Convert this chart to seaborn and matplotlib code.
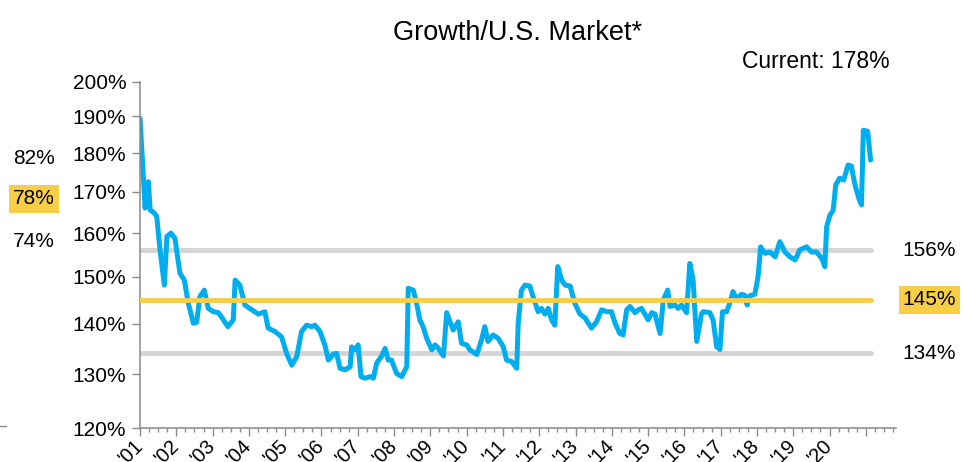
import pandas as pd
import matplotlib.pyplot as plt
import matplotlib.ticker as mticker
from matplotlib.lines import Line2D
import seaborn as sns

# Growth / U.S. market ratio (decimal year, %)
years = [
    2001.00, 2001.14, 2001.23, 2001.28, 2001.37, 2001.46, 2001.55, 2001.67, 2001.74, 2001.85,
    2001.96, 2002.10, 2002.22, 2002.33, 2002.47, 2002.56, 2002.65, 2002.77, 2002.88, 2003.02,
    2003.16, 2003.27, 2003.42, 2003.57, 2003.62, 2003.75, 2003.89, 2004.08, 2004.26, 2004.44,
    2004.53, 2004.72, 2004.90, 2005.04, 2005.18, 2005.32, 2005.45, 2005.59, 2005.73, 2005.82,
    2005.96, 2006.10, 2006.19, 2006.33, 2006.42, 2006.51, 2006.65, 2006.79, 2006.83, 2006.92,
    2007.01, 2007.09, 2007.20, 2007.34, 2007.43, 2007.52, 2007.66, 2007.75, 2007.84, 2007.93,
    2008.07, 2008.21, 2008.35, 2008.39, 2008.53, 2008.62, 2008.71, 2008.80, 2008.90, 2009.04,
    2009.13, 2009.22, 2009.36, 2009.45, 2009.54, 2009.63, 2009.77, 2009.86, 2010.00, 2010.09,
    2010.28, 2010.41, 2010.50, 2010.59, 2010.73, 2010.87, 2011.01, 2011.10, 2011.24, 2011.38,
    2011.42, 2011.51, 2011.61, 2011.74, 2011.83, 2011.97, 2012.06, 2012.16, 2012.25, 2012.34,
    2012.43, 2012.51, 2012.62, 2012.71, 2012.85, 2012.98, 2013.12, 2013.26, 2013.44, 2013.58,
    2013.72, 2013.86, 2013.99, 2014.09, 2014.22, 2014.31, 2014.41, 2014.50, 2014.64, 2014.73,
    2014.82, 2014.91, 2015.00, 2015.10, 2015.19, 2015.33, 2015.42, 2015.54, 2015.60, 2015.74,
    2015.83, 2015.92, 2016.06, 2016.15, 2016.24, 2016.34, 2016.47, 2016.52, 2016.70, 2016.79,
    2016.89, 2016.98, 2017.05, 2017.16, 2017.25, 2017.34, 2017.44, 2017.57, 2017.66, 2017.73,
    2017.80, 2017.94, 2018.03, 2018.10, 2018.22, 2018.36, 2018.50, 2018.63, 2018.77, 2018.91,
    2019.05, 2019.18, 2019.37, 2019.50, 2019.64, 2019.78, 2019.87, 2019.92, 2020.01, 2020.10,
    2020.17, 2020.28, 2020.39, 2020.51, 2020.60, 2020.69, 2020.82, 2020.88, 2020.93, 2021.05,
    2021.13,
]
ratio = [
    189.5, 166.0, 172.6, 165.5, 165.0, 164.0, 156.2, 148.2, 159.2, 160.0,
    158.8, 150.8, 149.3, 144.3, 140.1, 140.3, 145.7, 147.1, 143.2, 142.5,
    142.3, 141.1, 139.4, 140.8, 149.3, 148.2, 143.9, 142.9, 142.0, 142.5,
    139.1, 138.4, 137.3, 134.0, 131.7, 133.4, 138.4, 139.7, 139.4, 139.7,
    138.4, 135.5, 132.7, 133.9, 134.0, 131.1, 130.8, 131.4, 135.3, 134.7,
    135.7, 129.5, 129.2, 129.5, 129.2, 132.1, 133.5, 135.0, 132.7, 132.7,
    130.1, 129.5, 131.4, 147.5, 147.1, 144.3, 140.8, 139.4, 137.0, 134.7,
    135.7, 135.0, 133.5, 142.3, 140.4, 138.7, 140.4, 136.0, 135.7, 134.7,
    133.8, 136.7, 139.4, 136.4, 137.7, 137.0, 135.3, 132.7, 132.4, 131.1,
    140.1, 147.1, 148.2, 148.0, 145.7, 142.5, 143.2, 142.0, 143.2, 140.8,
    139.7, 152.3, 149.3, 148.2, 148.0, 144.3, 142.0, 141.2, 139.1, 140.4,
    142.9, 142.5, 142.5, 140.1, 138.0, 137.7, 142.9, 143.6, 142.3, 142.9,
    143.2, 142.0, 140.8, 142.3, 142.0, 138.0, 145.0, 147.1, 143.6, 143.9,
    143.2, 143.9, 142.3, 153.0, 149.3, 136.4, 142.0, 142.5, 142.3, 140.8,
    135.3, 134.8, 142.5, 142.5, 144.3, 146.8, 145.1, 146.2, 146.0, 143.9,
    145.9, 146.2, 150.0, 156.8, 155.3, 155.6, 154.5, 158.0, 155.6, 154.5,
    153.8, 156.1, 156.8, 155.6, 155.6, 154.2, 152.3, 161.5, 164.3, 165.5,
    171.8, 173.5, 173.0, 176.9, 176.6, 172.2, 168.0, 166.8, 186.2, 185.9,
    178.2,
]

band_values = [156, 145, 134]
band_labels = ['156%', '145%', '134%']
y_ticks = [120, 130, 140, 150, 160, 170, 180, 190, 200]
year_ticks = list(range(2001, 2022))
year_labels = ["'%02d" % (y % 100) for y in range(2001, 2021)] + ['']
side_labels = ['82%', '78%', '74%']  # edge of the neighbouring panel

blue = '#00aeef'
gold = '#f7ce46'
grey = '#d5d5d5'
axis_grey = '#8a8a8a'

sns.set_theme(style='ticks')
plt.rcParams['font.family'] = ['Liberation Sans', 'DejaVu Sans']
plt.rcParams['text.color'] = 'black'
plt.rcParams['xtick.labelcolor'] = 'black'
plt.rcParams['ytick.labelcolor'] = 'black'

fig = plt.figure(figsize=(9.63, 4.62), dpi=100)
ax = fig.add_axes([0.1454, 0.0729, 0.785, 0.7503])

df = pd.DataFrame({'year': years, 'ratio': ratio})

# average and +/- 1 std bands
for v in band_values:
    color = gold if v == 145 else grey
    z = 3 if v == 145 else 1
    ax.hlines(v, years[0], years[-1], colors=color, linewidth=3.5, zorder=z, capstyle='round')

sns.lineplot(data=df, x='year', y='ratio', color=blue, linewidth=3.6, ax=ax, zorder=2)

ax.set_yscale('log')
ax.set_ylim(120, 200)
ax.set_xlim(2001, 2021.83)
ax.yaxis.set_major_locator(mticker.FixedLocator(y_ticks))
ax.yaxis.set_minor_locator(mticker.NullLocator())
ax.yaxis.set_major_formatter(mticker.FuncFormatter(lambda v, _: f'{v:.0f}%'))
ax.set_xticks(year_ticks)
ax.set_xticklabels(year_labels, rotation=45, ha='right', va='center', rotation_mode='anchor')
ax.xaxis.set_minor_locator(mticker.MultipleLocator(0.25))
ax.set_xlabel('')
ax.set_ylabel('')

ax.tick_params(axis='y', direction='out', length=6, width=1, color=axis_grey, labelsize=15,
               pad=4, labelcolor='black')
ax.tick_params(axis='x', which='major', direction='out', length=6, width=1, color=axis_grey,
               labelsize=14.5, pad=4, labelcolor='black')
ax.tick_params(axis='x', which='minor', direction='out', length=3, width=1, color=axis_grey)
sns.despine(ax=ax)
for s in ['left', 'bottom']:
    ax.spines[s].set_color(axis_grey)
    ax.spines[s].set_linewidth(1.1)

# labels for the bands on the right
ytr = ax.get_yaxis_transform()
for v, lab in zip(band_values, band_labels):
    kw = {}
    if v == 145:
        kw['bbox'] = dict(boxstyle='square,pad=0.2', fc=gold, ec='none')
    ax.text(1.009, v, lab, transform=ytr, ha='left', va='center', fontsize=15,
            color='black', clip_on=False, **kw)

fig.text(518 / 963, 1 - 33 / 462, 'Growth/U.S. Market*', ha='center', va='center',
         fontsize=19.5, color='black')
fig.text(890 / 963, 1 - 62 / 462, 'Current: 178%', ha='right', va='center',
         fontsize=16.5, color='black')

# fragment of the neighbouring chart on the left edge
for lab, ypx in zip(side_labels, [158, 199, 241]):
    kw = {}
    if lab == '78%':
        kw['bbox'] = dict(boxstyle='square,pad=0.2', fc=gold, ec='none')
    fig.text(55 / 963, 1 - ypx / 462, lab, ha='right', va='center', fontsize=15,
             color='black', **kw)
fig.add_artist(Line2D([0, 6 / 963], [1 - 426 / 462] * 2, color=axis_grey, lw=1,
                      transform=fig.transFigure))

fig.savefig('out.png', dpi=100)
